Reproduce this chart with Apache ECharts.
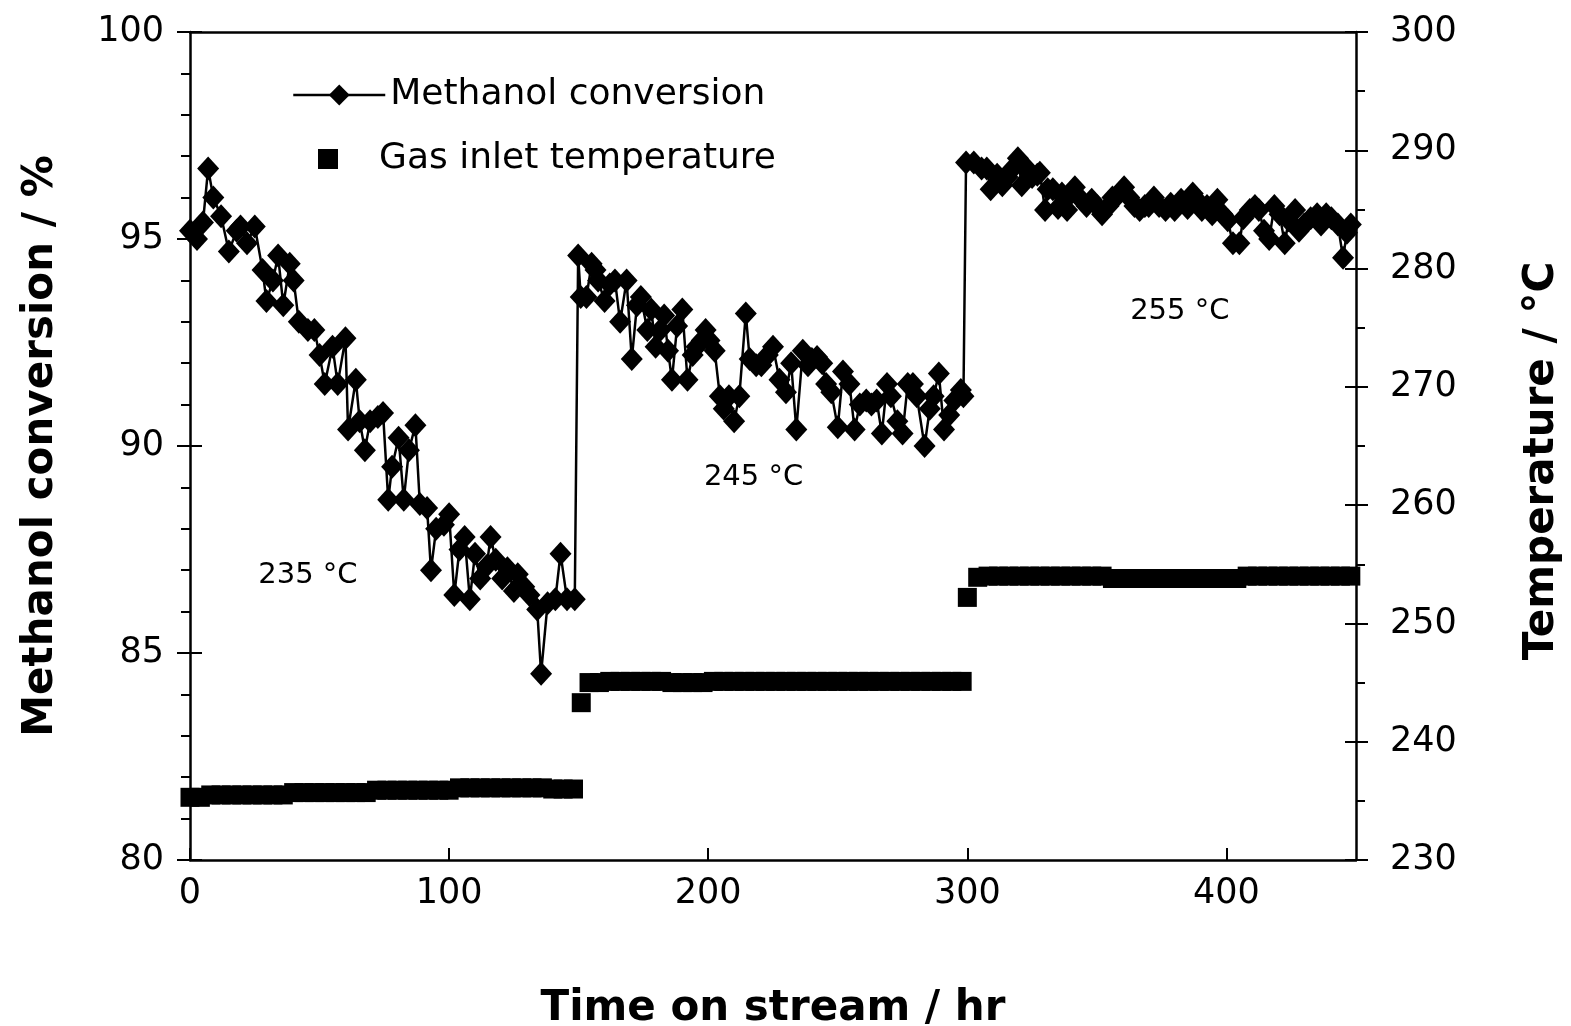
<!DOCTYPE html>
<html>
<head>
<meta charset="utf-8">
<script src="https://cdn.jsdelivr.net/npm/echarts@6.0.0/dist/echarts.min.js"></script>
<style>
    * {margin: 0; padding: 0;}
    body {background: #fff;}
    #main {width: 1571px; height: 1026px;}
</style>
</head>
<body>
<div id="main"></div>
<script>
// 甲醇转化率 (左轴, %) —— 三段温度
const convHours1 = [
    0, 2.7, 5, 7, 9, 12, 15, 18, 19.5, 22,
    25, 28, 29.5, 32, 34, 36, 38.5, 40, 42, 45.5,
    48, 50, 52, 55, 57, 60, 61, 64, 65.5, 67.5,
    69.5, 72.5, 74.5, 76.5, 78, 80.5, 82.5, 84.5, 87, 88.7,
    91.5, 93, 95, 98, 100, 102, 104, 106, 108, 110,
    112, 114.5, 116, 118, 120.5, 122.5, 125, 126.5, 129, 131,
    134, 135.5, 138, 141, 143, 145.5, 148.5
];
const convValues1 = [
    95.2, 95.0, 95.4, 96.7, 96.0, 95.55, 94.7, 95.2, 95.3, 94.9,
    95.3, 94.25, 93.5, 94.0, 94.6, 93.4, 94.4, 94.0, 93.0, 92.8,
    92.8, 92.2, 91.5, 92.4, 91.5, 92.6, 90.4, 91.6, 90.6, 89.9,
    90.6, 90.7, 90.8, 88.7, 89.5, 90.2, 88.7, 89.9, 90.5, 88.6,
    88.5, 87.0, 88.0, 88.1, 88.35, 86.4, 87.5, 87.8, 86.3, 87.4,
    86.8, 87.1, 87.8, 87.25, 86.8, 87.05, 86.5, 86.9, 86.6, 86.4,
    86.05, 84.5, 86.2, 86.3, 87.4, 86.3, 86.3
];
const convHours2 = [
    149.8, 150.8, 153, 155, 156.5, 157.5, 160, 162, 164, 166,
    168.5, 170.5, 172.5, 174, 176.5, 178, 179.7, 181.5, 183, 184.5,
    186, 188, 190, 192, 194, 195.5, 197.5, 199, 200.5, 202.5,
    204.5, 206, 208, 210, 212, 214.5, 216, 218.5, 220.5, 223,
    225, 227.5, 230, 232, 234, 236.5, 238.5, 240, 242, 244,
    245.5, 247.5, 250, 252, 254.5, 256.5, 258.5, 261, 263, 265,
    267, 269, 270.5, 273, 275, 277, 279, 280.5, 283.5, 285.5,
    287, 289, 291, 293, 295, 297.5, 298.5
];
const convValues2 = [
    94.6, 93.6, 93.6, 94.4, 94.25, 94.0, 93.5, 93.9, 94.0, 93.0,
    94.0, 92.1, 93.4, 93.6, 92.8, 93.3, 92.4, 92.8, 93.15, 92.3,
    91.6, 92.9, 93.3, 91.6, 92.2, 92.4, 92.55, 92.8, 92.55, 92.3,
    91.2, 90.9, 91.2, 90.6, 91.2, 93.2, 92.1, 91.95, 91.95, 92.2,
    92.4, 91.6, 91.3, 92.0, 90.4, 92.3, 91.95, 92.1, 92.15, 92.0,
    91.5, 91.3, 90.45, 91.8, 91.5, 90.4, 91.0, 91.1, 91.0, 91.1,
    90.3, 91.5, 91.2, 90.6, 90.3, 91.5, 91.5, 91.2, 90.0, 90.9,
    91.2, 91.75, 90.4, 90.75, 91.1, 91.35, 91.2
];
const convHours3 = [
    299.5, 302.5, 305.5, 307.5, 309, 311.5, 313.5, 315.5, 317.5, 319.5,
    321, 323, 325, 327, 328, 330, 331, 333, 335, 336.5,
    338.5, 340, 341.5, 344, 346, 348, 350, 352, 354.5, 356,
    358, 360.5, 362.5, 364.5, 366.5, 368.5, 370, 372, 374, 376.5,
    378.5, 380, 382.5, 385, 387, 388.5, 390.5, 392.5, 394.5, 396.5,
    398.5, 400.5, 402.5, 405, 406.5, 409, 411, 412.5, 414.5, 416.5,
    418.5, 420.5, 422.5, 424, 426.5, 428, 430, 432.5, 435, 436.5,
    438.5, 440.5, 443, 445, 446.5, 448
];
const convValues3 = [
    96.85, 96.85, 96.7, 96.7, 96.2, 96.55, 96.3, 96.5, 96.7, 96.95,
    96.3, 96.7, 96.5, 96.55, 96.6, 95.7, 96.2, 96.2, 95.75, 96.1,
    95.7, 96.1, 96.25, 95.95, 95.8, 95.95, 95.8, 95.6, 95.8, 96.0,
    96.05, 96.25, 96.0, 95.8, 95.7, 95.8, 95.8, 96.0, 95.8, 95.7,
    95.85, 95.7, 95.95, 95.75, 96.1, 95.95, 95.7, 95.8, 95.6, 95.95,
    95.6, 95.45, 94.9, 94.9, 95.5, 95.7, 95.8, 95.7, 95.2, 95.0,
    95.8, 95.6, 94.9, 95.45, 95.7, 95.2, 95.35, 95.5, 95.6, 95.35,
    95.6, 95.5, 95.35, 94.55, 95.15, 95.35
];

// 进气温度 (右轴, °C)
const tempHours1 = [
    0, 4, 8, 12, 16, 20, 24, 28, 32, 36,
    40, 44, 48, 52, 56, 60, 64, 68, 72, 76,
    80, 84, 88, 92, 96, 100, 104, 108, 112, 116,
    120, 124, 128, 132, 136, 140, 144, 148
];
const tempValues1 = [
    235.3, 235.3, 235.5, 235.5, 235.5, 235.5, 235.5, 235.5, 235.5, 235.5,
    235.7, 235.7, 235.7, 235.7, 235.7, 235.7, 235.7, 235.7, 235.9, 235.9,
    235.9, 235.9, 235.9, 235.9, 235.9, 235.9, 236.1, 236.1, 236.1, 236.1,
    236.1, 236.1, 236.1, 236.1, 236.1, 236.0, 236.0, 236.0
];
const tempHours2 = [
    151, 154, 158, 162, 166, 170, 174, 178, 182, 186,
    190, 194, 198, 202, 206, 210, 214, 218, 222, 226,
    230, 234, 238, 242, 246, 250, 254, 258, 262, 266,
    270, 274, 278, 282, 286, 290, 294, 298
];
const tempValues2 = [
    243.3, 245.0, 245.0, 245.1, 245.1, 245.1, 245.1, 245.1, 245.1, 245.0,
    245.0, 245.0, 245.0, 245.1, 245.1, 245.1, 245.1, 245.1, 245.1, 245.1,
    245.1, 245.1, 245.1, 245.1, 245.1, 245.1, 245.1, 245.1, 245.1, 245.1,
    245.1, 245.1, 245.1, 245.1, 245.1, 245.1, 245.1, 245.1
];
const tempHours3 = [
    300, 304, 308, 312, 316, 320, 324, 328, 332, 336,
    340, 344, 348, 352, 356, 360, 364, 368, 372, 376,
    380, 384, 388, 392, 396, 400, 404, 408, 412, 416,
    420, 424, 428, 432, 436, 440, 444, 448
];
const tempValues3 = [
    252.2, 253.9, 254.0, 254.0, 254.0, 254.0, 254.0, 254.0, 254.0, 254.0,
    254.0, 254.0, 254.0, 254.0, 253.8, 253.8, 253.8, 253.8, 253.8, 253.8,
    253.8, 253.8, 253.8, 253.8, 253.8, 253.8, 253.8, 254.0, 254.0, 254.0,
    254.0, 254.0, 254.0, 254.0, 254.0, 254.0, 254.0, 254.0
];

// 图中温度标注 (时间, 转化率)
const noteLabels = ['235 °C', '245 °C', '255 °C'];
const noteHours = [45.5, 217.5, 382];
const noteValues = [86.88, 89.23, 93.26];

const FONT = 'DejaVu Sans';

function zip(xs, ys) {
    return xs.map((x, i) => [x, ys[i]]);
}

const convData = [].concat(
    zip(convHours1, convValues1),
    zip(convHours2, convValues2),
    zip(convHours3, convValues3)
);
const tempData = [].concat(
    zip(tempHours1, tempValues1),
    zip(tempHours2, tempValues2),
    zip(tempHours3, tempValues3)
);

const axisLine = {show: true, lineStyle: {color: '#000', width: 2.5}};
const tickStyle = {color: '#000', width: 2};
const labelStyle = {color: '#000', fontSize: 35, fontFamily: FONT};
const titleStyle = {color: '#000', fontSize: 42, fontWeight: 'bold', fontFamily: FONT};
const legendText = {color: '#000', fontSize: 36, fontFamily: FONT};

const chart = echarts.init(document.getElementById('main'));

chart.setOption({
    animation: false,
    backgroundColor: '#fff',
    grid: {left: 190, right: 215, top: 32, bottom: 166, outerBoundsMode: 'none'},
    legend: [
        {
            left: 287,
            top: 72,
            itemWidth: 92,
            itemHeight: 26,
            selectedMode: false,
            lineStyle: {width: 2.5},
            textStyle: legendText,
            data: ['Methanol conversion']
        },
        {
            left: 313,
            top: 136,
            itemWidth: 92,
            itemHeight: 20,
            selectedMode: false,
            symbolKeepAspect: true,
            textStyle: legendText,
            data: [{name: 'Gas inlet temperature', icon: 'path://M0,0L10,0L10,10L0,10Z'}]
        }
    ],
    xAxis: [
        {
            type: 'value',
            position: 'bottom',
            min: 0,
            max: 450,
            interval: 100,
            axisLine,
            axisTick: {show: true, inside: true, length: 12, lineStyle: tickStyle},
            axisLabel: Object.assign({margin: 16, showMaxLabel: false}, labelStyle),
            splitLine: {show: false},
            name: 'Time on stream / hr',
            nameLocation: 'middle',
            nameGap: 128,
            nameTextStyle: titleStyle
        },
        {
            type: 'value',
            position: 'top',
            min: 0,
            max: 450,
            axisLine,
            axisTick: {show: false},
            axisLabel: {show: false},
            splitLine: {show: false}
        }
    ],
    yAxis: [
        {
            type: 'value',
            position: 'left',
            min: 80,
            max: 100,
            interval: 5,
            axisLine,
            axisTick: {show: true, length: 13, lineStyle: tickStyle},
            minorTick: {show: true, splitNumber: 5, length: 9, lineStyle: tickStyle},
            axisLabel: Object.assign({margin: 26}, labelStyle),
            splitLine: {show: false},
            name: 'Methanol conversion / %',
            nameLocation: 'middle',
            nameRotate: 90,
            nameGap: 128,
            nameTextStyle: titleStyle
        },
        {
            // 主刻度向内的一半
            type: 'value',
            position: 'left',
            min: 80,
            max: 100,
            interval: 5,
            axisLine: {show: false},
            axisTick: {show: true, inside: true, length: 12, lineStyle: tickStyle},
            axisLabel: {show: false},
            splitLine: {show: false}
        },
        {
            type: 'value',
            position: 'right',
            min: 230,
            max: 300,
            interval: 10,
            axisLine,
            axisTick: {show: true, length: 12, lineStyle: tickStyle},
            minorTick: {show: true, splitNumber: 2, length: 9, lineStyle: tickStyle},
            axisLabel: Object.assign({margin: 34}, labelStyle),
            splitLine: {show: false},
            name: 'Temperature / °C',
            nameLocation: 'middle',
            nameRotate: 90,
            nameGap: 165,
            nameTextStyle: Object.assign({padding: [0, 30, 0, 0]}, titleStyle)
        },
        {
            type: 'value',
            position: 'right',
            min: 230,
            max: 300,
            interval: 10,
            axisLine: {show: false},
            axisTick: {show: true, inside: true, length: 11, lineStyle: tickStyle},
            axisLabel: {show: false},
            splitLine: {show: false}
        }
    ],
    series: [
        {
            name: 'Methanol conversion',
            type: 'line',
            xAxisIndex: 0,
            yAxisIndex: 0,
            data: convData,
            symbol: 'diamond',
            symbolSize: [22, 24],
            showAllSymbol: true,
            itemStyle: {color: '#000', opacity: 1},
            lineStyle: {color: '#000', width: 2.5},
            z: 3,
            markPoint: {
                symbol: 'circle',
                symbolSize: 1,
                itemStyle: {color: 'rgba(0,0,0,0)'},
                label: {
                    show: true,
                    position: 'inside',
                    formatter: p => p.name,
                    color: '#000',
                    fontSize: 29,
                    fontFamily: FONT
                },
                data: noteLabels.map((name, i) => ({name, coord: [noteHours[i], noteValues[i]]}))
            }
        },
        {
            name: 'Gas inlet temperature',
            type: 'scatter',
            xAxisIndex: 0,
            yAxisIndex: 2,
            data: tempData,
            symbol: 'rect',
            symbolSize: 19,
            itemStyle: {color: '#000', opacity: 1},
            z: 2
        }
    ]
});
</script>
</body>
</html>
